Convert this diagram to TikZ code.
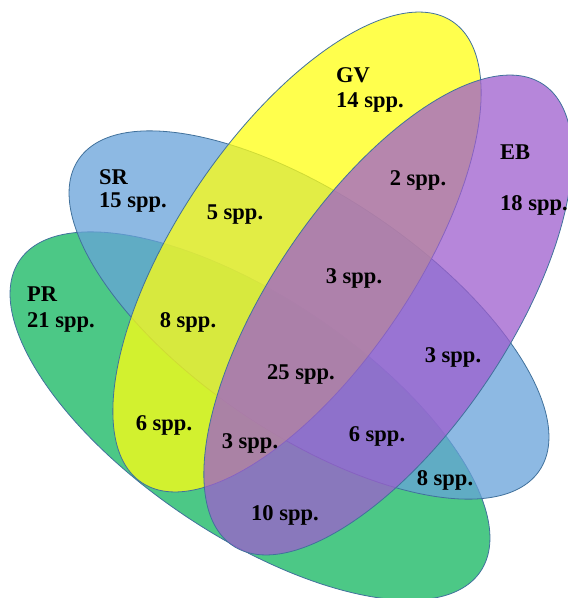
\documentclass[tikz,border=0pt]{standalone}
\usepackage{fontspec}
\setmainfont{Liberation Serif}
\definecolor{cblue}{RGB}{103,162,217}
\definecolor{cgreen}{RGB}{16,182,94}
\definecolor{cyellow}{RGB}{255,255,18}
\definecolor{cpurple}{RGB}{158,94,206}
\definecolor{cedge}{RGB}{65,113,156}
\tikzset{
  setshape/.style={draw=cedge, line width=0.8pt, fill opacity=0.75},
  lbl/.style={font=\fontsize{22.5}{26}\selectfont\bfseries, inner sep=0pt, text=black, yshift=-2pt},
  lblw/.style={lbl, anchor=west}
}
\begin{document}
\begin{tikzpicture}[x=1pt,y=-1pt]
\useasboundingbox (0,0) rectangle (568,598);
% ellipses
\path[setshape, fill=cgreen, rotate around={-34:(250,416)}] (250,416) ellipse [x radius=278pt, y radius=119pt];
\path[setshape, fill=cblue, rotate around={-34:(309,315)}] (309,315) ellipse [x radius=278pt, y radius=119pt];
\path[setshape, fill=cyellow, rotate around={56:(297,252)}] (297,252) ellipse [x radius=278pt, y radius=119pt];
\path[setshape, fill=cpurple, rotate around={56:(388,315)}] (388,315) ellipse [x radius=278pt, y radius=119pt];
% set labels
\node[lblw] (gv) at (336,73) {GV};
\node[lblw] (gvn) at (336,100) {14 spp.};
\node[lblw] (eb) at (500,150) {EB};
\node[lblw] (ebn) at (500,203) {18 spp.};
\node[lblw] (sr) at (99,175) {SR};
\node[lblw] (srn) at (99,200) {15 spp.};
\node[lblw] (pr) at (27,292) {PR};
\node[lblw] (prn) at (27,320) {21 spp.};
% region counts
\node[lbl] (r1) at (235,213) {5 spp.};
\node[lbl] (r2) at (418,178) {2 spp.};
\node[lbl] (r3) at (354,276) {3 spp.};
\node[lbl] (r4) at (188,320) {8 spp.};
\node[lbl] (r5) at (301,372) {25 spp.};
\node[lbl] (r6) at (453,355) {3 spp.};
\node[lbl] (r7) at (164,423) {6 spp.};
\node[lbl] (r8) at (250,441) {3 spp.};
\node[lbl] (r9) at (377,434) {6 spp.};
\node[lbl] (r10) at (445,478) {8 spp.};
\node[lbl] (r11) at (285,513) {10 spp.};
\end{tikzpicture}
\end{document}
